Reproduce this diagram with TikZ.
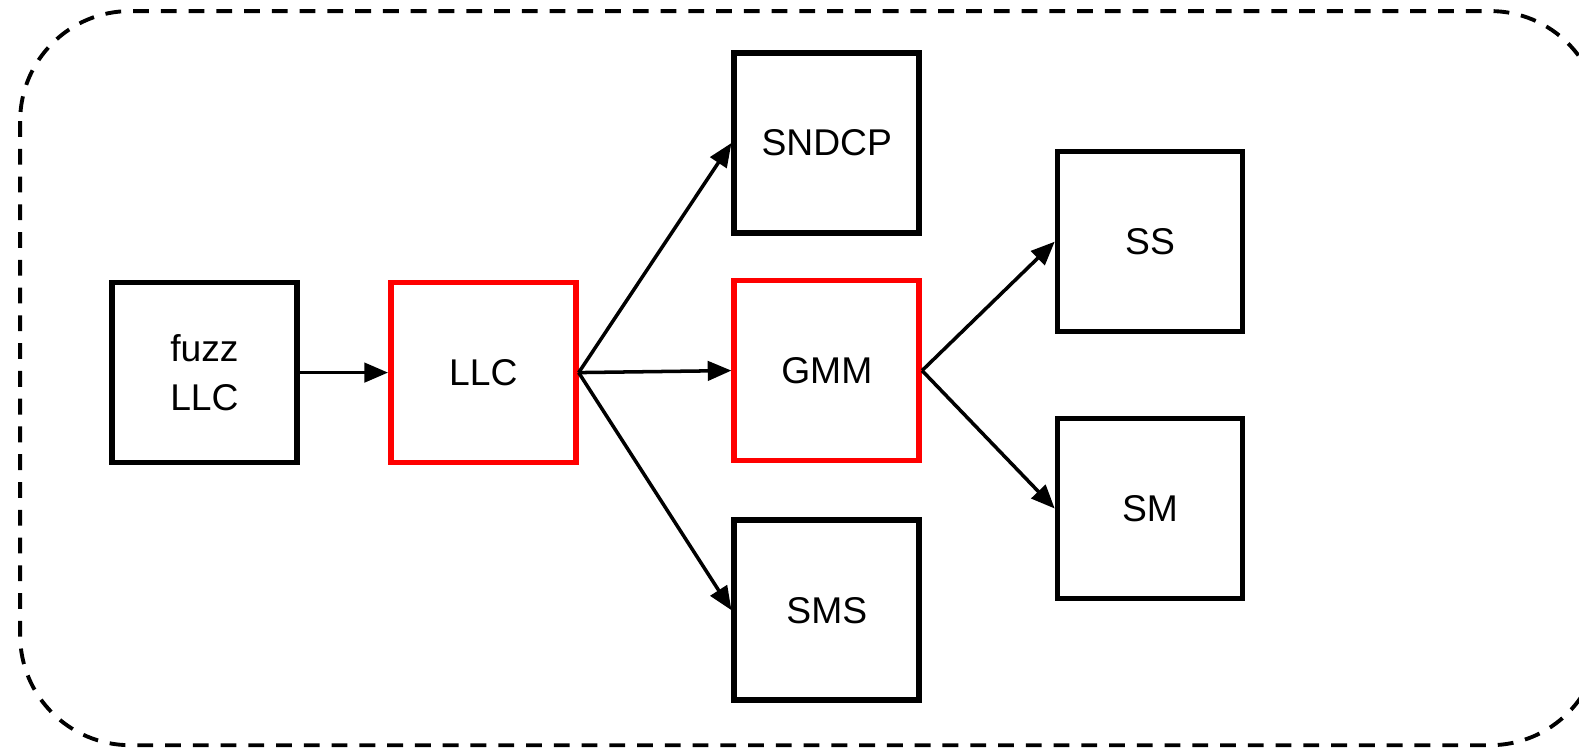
\documentclass[tikz,border=0pt]{standalone}
\usepackage{fontspec}
\setmainfont{Liberation Sans}
\usetikzlibrary{arrows.meta}

\begin{document}
\begin{tikzpicture}[x=0.02014cm,y=-0.02014cm]
\tikzset{
    layer/.style={draw, line width=3.2pt, minimum width=3.7cm, minimum height=3.6cm,
        align=center, font=\fontsize{21.2}{27.5}\selectfont},
    fuzzed/.style={layer, draw=red},
    link/.style={line width=2pt, -{Triangle[length=13.5pt,width=11pt]}}
}
\useasboundingbox (0,0) rectangle (1568,742);
\draw[line width=2.2pt, dash pattern=on 9pt off 6.8pt, rounded corners=2.2cm]
    (20,11) rectangle (1589,740);

\node[layer] (fuzz) at (203,370) {fuzz\\LLC};
\node[fuzzed] (llc) at (480,370) {LLC};
\node[layer] (sndcp) at (821,142) {SNDCP};
\node[fuzzed] (gmm) at (821,368) {GMM};
\node[layer] (sms) at (821,606) {SMS};
\node[layer] (ss) at (1142,240) {SS};
\node[layer] (sm) at (1142,505) {SM};

\draw[link] (fuzz) -- (llc);
\draw[link] (llc.east) -- (sndcp.west);
\draw[link] (llc.east) -- (gmm.west);
\draw[link] (llc.east) -- (sms.west);
\draw[link] (gmm.east) -- (ss.west);
\draw[link] (gmm.east) -- (sm.west);
\end{tikzpicture}
\end{document}
